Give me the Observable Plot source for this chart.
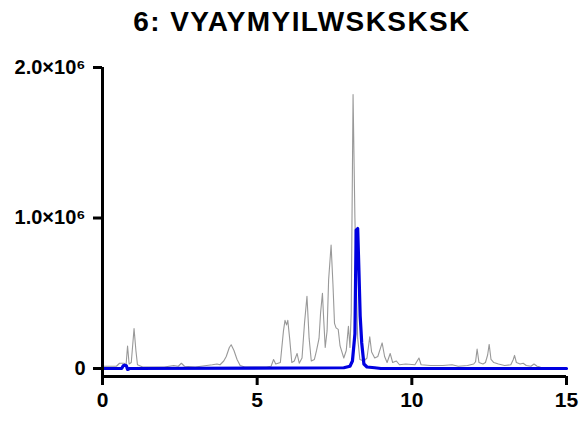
<!DOCTYPE html>
<html>
<head>
<meta charset="utf-8">
<script src="https://cdn.jsdelivr.net/npm/d3@7"></script>
<script src="https://cdn.jsdelivr.net/npm/@observablehq/plot@0.6"></script>
<style>
  html, body { margin: 0; padding: 0; background: #fff; }
  #wrap { position: relative; width: 582px; height: 421px; overflow: hidden; }
  #title { position: absolute; left: 0; top: 8px; width: 582px; padding-left: 22px; box-sizing: border-box;
           text-align: center; font: bold 28px/28px "Liberation Sans", Arial, sans-serif; letter-spacing: 1.4px; color: #000; }
  #chart { position: absolute; left: 0; top: 50px; }
</style>
</head>
<body>
<div id="wrap">
  <div id="title">6: VYAYMYILWSKSKSK</div>
  <div id="chart"></div>
</div>
<script>
const titleText = "6: VYAYMYILWSKSKSK";

// Total ion chromatogram (gray)
const grayTime = [0.0,0.45,0.55,0.7,0.76,0.81,0.86,0.93,1.02,1.08,1.13,1.3,2.0,2.3,2.45,2.55,2.65,3.0,3.55,3.7,3.8,3.92,4.0,4.1,4.16,4.25,4.35,4.45,4.6,5.3,5.45,5.53,5.6,5.75,5.85,5.9,5.95,5.99,6.05,6.12,6.2,6.29,6.36,6.45,6.53,6.61,6.68,6.75,6.85,6.92,7.0,7.05,7.11,7.15,7.2,7.26,7.31,7.39,7.45,7.5,7.55,7.62,7.68,7.8,7.88,7.95,8.0,8.04,8.1,8.16,8.2,8.25,8.32,8.45,8.55,8.64,8.7,8.8,8.9,9.04,9.12,9.2,9.3,9.38,9.5,9.6,9.8,10.1,10.23,10.3,10.6,11.0,11.3,11.5,11.8,12.0,12.06,12.11,12.17,12.3,12.38,12.45,12.5,12.56,12.65,12.8,13.0,13.2,13.28,13.32,13.38,13.5,13.6,13.7,13.85,13.95,14.05,14.15];
const grayIntensity = [15000,15000,35000,35000,20000,150000,30000,40000,265000,120000,25000,10000,10000,20000,15000,35000,15000,10000,25000,30000,25000,50000,80000,140000,158000,120000,60000,20000,10000,10000,15000,60000,30000,40000,250000,320000,290000,320000,200000,40000,50000,100000,35000,70000,300000,480000,200000,50000,60000,120000,200000,370000,500000,330000,140000,250000,590000,820000,560000,300000,270000,260000,150000,70000,120000,280000,140000,370000,1820000,1000000,600000,200000,60000,50000,70000,210000,110000,70000,80000,170000,80000,40000,100000,40000,50000,25000,30000,25000,70000,25000,20000,20000,25000,15000,20000,30000,45000,130000,40000,30000,40000,90000,160000,60000,40000,30000,20000,25000,60000,87000,40000,30000,35000,20000,15000,30000,15000,10000];

// Extracted ion chromatogram (blue)
const blueTime = [0.0,0.62,0.67,0.72,0.77,0.81,0.88,7.8,8.0,8.08,8.16,8.2,8.25,8.29,8.33,8.38,8.45,8.55,8.8,9.0,15.0];
const blueIntensity = [0,0,18000,22000,18000,-6000,0,5000,15000,50000,230000,920000,930000,650000,350000,170000,30000,10000,5000,0,0];

// Axis ticks
const xTicks = [0, 5, 10, 15];
const yTicks = [0, 1000000, 2000000];
const yTickLabels = ["0", "1.0×10⁶", "2.0×10⁶"];

const gray = grayTime.map((t, i) => ({t, v: grayIntensity[i]}));
const blue = blueTime.map((t, i) => ({t, v: blueIntensity[i]}));

const plot = Plot.plot({
  width: 582,
  height: 371,
  marginLeft: 102,
  marginRight: 16,
  marginTop: 17,
  marginBottom: 45,
  style: {fontFamily: '"Liberation Sans", Arial, sans-serif', fontWeight: "bold", color: "#000", background: "#fff", overflow: "visible"},
  x: {domain: [0, 15]},
  y: {domain: [-53000, 2000000]},
  marks: [
    Plot.line(gray, {x: "t", y: "v", stroke: "#999999", strokeWidth: 1.1}),
    Plot.line(blue, {x: "t", y: "v", stroke: "#0000e0", strokeWidth: 3.2}),
    Plot.ruleX([0], {stroke: "#000", strokeWidth: 3}),
    Plot.ruleY([-53000], {stroke: "#000", strokeWidth: 3}),
    Plot.axisX({ticks: xTicks, tickSize: 9, tickPadding: 7, strokeWidth: 3, fontSize: 21, label: null, tickFormat: d => String(d)}),
    Plot.axisY({ticks: yTicks, tickSize: 9, tickPadding: 8, strokeWidth: 3, fontSize: 20, label: null,
                tickFormat: d => yTickLabels[yTicks.indexOf(d)]})
  ]
});
document.getElementById("chart").appendChild(plot);
</script>
</body>
</html>
